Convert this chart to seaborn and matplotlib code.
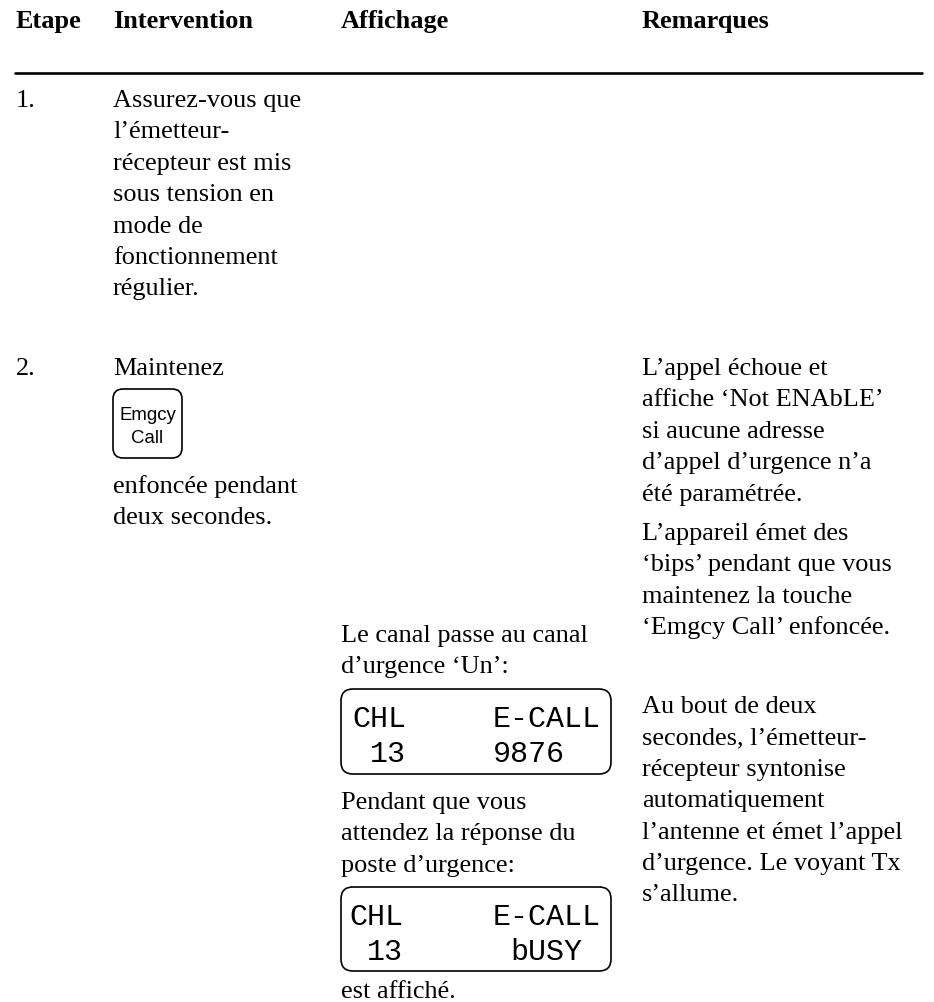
import matplotlib
matplotlib.use("Agg")
import matplotlib.pyplot as plt
from matplotlib.patches import FancyBboxPatch
import pandas as pd
import seaborn as sns

sns.set_theme(style="white")
plt.rcParams['font.family'] = ['Liberation Serif', 'DejaVu Serif']

# table content
headers = ["Etape", "Intervention", "Affichage", "Remarques"]
step1_no = "1."
step1_action = ["Assurez-vous que", "l’émetteur-", "récepteur est mis", "sous tension en",
                "mode de", "fonctionnement", "régulier."]
step2_no = "2."
step2_action_top = ["Maintenez"]
step2_action_bottom = ["enfoncée pendant", "deux secondes."]
key_label = ["Emgcy", "Call"]
display_a = ["Le canal passe au canal", "d’urgence ‘Un’:"]
display_b = ["Pendant que vous", "attendez la réponse du", "poste d’urgence:"]
display_c = ["est affiché."]
lcd_top = ["CHL", "E-CALL"]
lcd_a_bottom = ["13", "9876"]
lcd_b_bottom = ["13", "bUSY"]
remark_a = ["L’appel échoue et", "affiche ‘Not ENAbLE’", "si aucune adresse",
            "d’appel d’urgence n’a", "été paramétrée."]
remark_b = ["L’appareil émet des", "‘bips’ pendant que vous", "maintenez la touche",
            "‘Emgcy Call’ enfoncée."]
remark_c = ["Au bout de deux", "secondes, l’émetteur-", "récepteur syntonise",
            "automatiquement", "l’antenne et émet l’appel", "d’urgence. Le voyant Tx", "s’allume."]

FS = 18.9
PITCH = 31.4
COL = [16, 113, 341, 642]

fig = plt.figure(figsize=(9.34, 10.03), dpi=100)
ax = fig.add_axes([0, 0, 1, 1])
ax.set_xlim(0, 934)
ax.set_ylim(1003, 0)
ax.axis("off")


def block(x, y, lines, **kw):
    for i, line in enumerate(lines):
        ax.text(x, y + i * PITCH, line, fontsize=FS, va="baseline", ha="left", color="black", **kw)


def lcd(top, bottom, left_x, bottom_right_x, rows):
    ax.add_patch(FancyBboxPatch((341, top), 270, bottom - top, boxstyle="round,pad=0,rounding_size=12",
                                fill=False, ec="black", lw=1.2))
    lcd_kw = dict(fontsize=21.6, family="Liberation Mono", va="baseline", color="black")
    ax.text(left_x, top + 37, rows[0][0], **lcd_kw)
    ax.text(493, top + 37, rows[0][1], **lcd_kw)
    ax.text(left_x + 18, top + 72, rows[1][0], **lcd_kw)
    ax.text(bottom_right_x, top + 72, rows[1][1], **lcd_kw)


for x, h in zip(COL, headers):
    ax.text(x, 28, h, fontsize=FS, fontweight="bold", va="baseline", color="black")

rule = pd.DataFrame({"x": [15, 922], "y": [73.5, 73.5]})
sns.lineplot(data=rule, x="x", y="y", color="black", lw=1.9, ax=ax, legend=False)

block(COL[0], 107, [step1_no])
block(COL[1], 107, step1_action)
block(COL[0], 375, [step2_no])
block(COL[1], 375, step2_action_top)

ax.add_patch(FancyBboxPatch((113, 390), 69, 69, boxstyle="round,pad=0,rounding_size=10",
                            fill=False, ec="black", lw=1.2))
ax.text(147.5, 420, key_label[0], fontsize=13.4, family="Liberation Sans", ha="center", va="baseline", color="black")
ax.text(147.5, 443, key_label[1], fontsize=13.4, family="Liberation Sans", ha="center", va="baseline", color="black")
block(COL[1], 493, step2_action_bottom)

block(COL[3], 375, remark_a)
block(COL[3], 540, remark_b)
block(COL[3], 713, remark_c)

block(COL[2], 642, display_a)
lcd(690, 775, 352, 493, [lcd_top, lcd_a_bottom])
block(COL[2], 809, display_b)
lcd(888, 972, 349, 510, [lcd_top, lcd_b_bottom])
block(COL[2], 998, display_c)

fig.savefig("out.png", dpi=100)
